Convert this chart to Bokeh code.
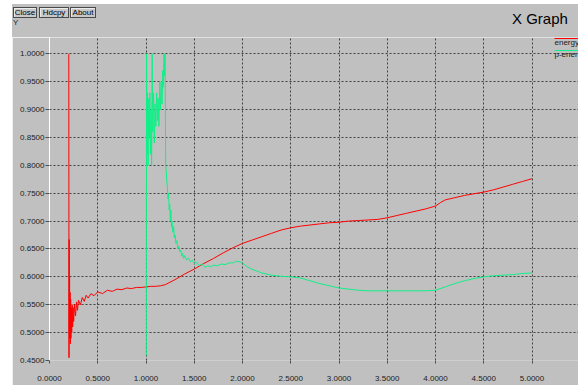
from bokeh.plotting import figure
from bokeh.models import Range1d, FixedTicker, PrintfTickFormatter, Label, Div
from bokeh.layouts import column
from bokeh.embed import file_html
from bokeh.resources import INLINE

# ---- data ----
energy_x = [0.200, 0.202, 0.204, 0.206, 0.208, 0.210, 0.213, 0.216, 0.219, 0.222, 0.226, 0.230,
            0.235, 0.240, 0.245, 0.25, 0.26, 0.27, 0.28, 0.29, 0.30, 0.32, 0.34, 0.36, 0.38, 0.40,
            0.43, 0.46, 0.50, 0.55, 0.60, 0.65, 0.70, 0.75, 0.80, 0.85, 0.90, 0.95, 1.0, 1.05, 1.1,
            1.15, 1.2, 1.3, 1.4, 1.5, 1.6, 1.7, 1.8, 1.9, 2.0, 2.1, 2.2, 2.3, 2.4, 2.5, 2.6, 2.7,
            2.8, 2.9, 3.0, 3.1, 3.2, 3.3, 3.4, 3.5, 3.6, 3.7, 3.8, 3.9, 4.0, 4.05, 4.1, 4.2, 4.3,
            4.4, 4.5, 4.6, 4.7, 4.8, 4.9, 5.0]
energy_y = [1.0, 0.455, 0.667, 0.50, 0.60, 0.49, 0.572, 0.48, 0.56, 0.49, 0.545, 0.50,
            0.55, 0.51, 0.545, 0.52, 0.55, 0.53, 0.555, 0.54, 0.558, 0.55, 0.563, 0.556, 0.567, 0.562,
            0.570, 0.566, 0.573, 0.570, 0.576, 0.574, 0.578, 0.577, 0.580, 0.579, 0.581, 0.581, 0.582, 0.583, 0.583,
            0.584, 0.586, 0.595, 0.605, 0.614, 0.624, 0.633, 0.643, 0.652, 0.660, 0.666, 0.672, 0.678, 0.684, 0.688, 0.691, 0.693,
            0.695, 0.697, 0.698, 0.700, 0.701, 0.702, 0.703, 0.706, 0.710, 0.714, 0.718, 0.722, 0.727, 0.733, 0.738, 0.742, 0.746,
            0.749, 0.752, 0.756, 0.761, 0.766, 0.771, 0.776]

penergy_x = [1.003, 1.006, 1.010, 1.016, 1.022, 1.028, 1.034, 1.040, 1.046, 1.052, 1.058, 1.064,
             1.070, 1.078, 1.086, 1.094, 1.102, 1.110, 1.118, 1.126, 1.134, 1.142, 1.150, 1.158,
             1.166, 1.174, 1.180, 1.186, 1.192, 1.198, 1.204, 1.210, 1.216, 1.222, 1.228, 1.234,
             1.240, 1.246, 1.252, 1.258, 1.264, 1.270, 1.278, 1.286, 1.294, 1.302, 1.31, 1.32,
             1.33, 1.34, 1.35, 1.36, 1.37, 1.38, 1.39, 1.40, 1.42, 1.44, 1.46, 1.48, 1.50, 1.52,
             1.55, 1.58, 1.61, 1.64, 1.67, 1.70, 1.74, 1.78, 1.82, 1.86, 1.90, 1.94, 1.97, 2.00,
             2.04, 2.08, 2.14, 2.2, 2.3, 2.4, 2.5, 2.6, 2.7, 2.8, 2.9, 3.0, 3.1, 3.2, 3.3, 3.4,
             3.5, 3.6, 3.7, 3.8, 3.9, 4.0, 4.1, 4.2, 4.3, 4.4, 4.5, 4.6, 4.7, 4.8, 4.9, 5.0]
penergy_y = [0.459, 1.0, 0.82, 0.93, 0.80, 0.92, 0.85, 0.93, 0.82, 0.90, 0.80, 1.0,
             0.86, 0.93, 0.84, 0.91, 0.87, 0.93, 0.88, 0.92, 0.87, 0.95, 0.90, 0.95,
             0.91, 0.97, 0.94, 1.0, 0.96, 1.0, 0.80, 0.79, 0.77, 0.76, 0.74, 0.75,
             0.72, 0.73, 0.70, 0.72, 0.69, 0.70, 0.68, 0.69, 0.67, 0.675, 0.66, 0.665,
             0.65, 0.655, 0.645, 0.648, 0.637, 0.642, 0.633, 0.638, 0.630, 0.634, 0.627, 0.630, 0.624, 0.627,
             0.620, 0.623, 0.617, 0.620, 0.618, 0.621, 0.620, 0.623, 0.622, 0.625, 0.625, 0.628, 0.627, 0.625,
             0.619, 0.615, 0.611, 0.607, 0.603, 0.601, 0.600, 0.598, 0.593, 0.588, 0.584, 0.580, 0.578, 0.576, 0.575, 0.575,
             0.575, 0.575, 0.575, 0.575, 0.575, 0.576, 0.582, 0.588, 0.593, 0.597, 0.600, 0.602, 0.603, 0.604, 0.606, 0.607]

x_ticks = [0.0, 0.5, 1.0, 1.5, 2.0, 2.5, 3.0, 3.5, 4.0, 4.5, 5.0]
y_ticks = [0.45, 0.50, 0.55, 0.60, 0.65, 0.70, 0.75, 0.80, 0.85, 0.90, 0.95, 1.00]
series_names = ["energy", "p-energy"]
buttons = ["Close", "Hdcpy", "About"]
title_text = "X Graph"
y_name = "Y"

# ---- layout ----
BG = "#c0c0c0"
FONT = "Liberation Sans"
OX, OY = 12, 37                 # window position of the figure canvas
W, H = 566, 348
FL, FR, FT, FB = 37, 0, 0, 25   # frame borders (canvas px)
FW, FH = W - FL - FR, H - FT - FB
PX_X, PX_Y = 96.5, 557.6        # pixels per data unit
X0, Y0 = 0.0, 0.45
XEND = X0 + FW / PX_X
YEND = Y0 + FH / PX_Y
GRID_XMAX = 5.233               # right end of horizontal grid lines


def dx(xw):
    return X0 + (xw - OX - FL) / PX_X


def dy(yw):
    return YEND - (yw - OY - FT) / PX_Y


p = figure(width=W, height=H, output_backend="svg", toolbar_location=None,
           x_range=Range1d(X0, XEND), y_range=Range1d(Y0, YEND),
           min_border_left=FL, min_border_right=FR, min_border_top=FT, min_border_bottom=FB,
           margin=(0, 0, 0, OX))
p.background_fill_color = BG
p.border_fill_color = BG
p.outline_line_color = None

for ax in (p.xaxis[0], p.yaxis[0]):
    ax.formatter = PrintfTickFormatter(format="%.4f")
    ax.major_label_text_font = FONT
    ax.major_label_text_font_size = "8px"
    ax.major_label_text_color = "#202020"
    ax.minor_tick_line_color = None
    ax.major_tick_in = 0
    ax.major_tick_line_color = "#505050"

p.xaxis[0].ticker = FixedTicker(ticks=x_ticks)
p.yaxis[0].ticker = FixedTicker(ticks=y_ticks)
p.xaxis[0].axis_line_color = None
p.xaxis[0].major_tick_out = 3
p.xaxis[0].major_label_standoff = 12
p.yaxis[0].axis_line_color = "white"
p.yaxis[0].major_tick_out = 4
p.yaxis[0].major_label_standoff = 1

for g in (p.xgrid[0], p.ygrid[0]):
    g.grid_line_color = "#404040"
    g.grid_line_dash = "2 2"
    g.grid_line_width = 1
p.xgrid[0].ticker = FixedTicker(ticks=x_ticks)
p.ygrid[0].ticker = FixedTicker(ticks=y_ticks)
p.ygrid[0].bounds = (X0, GRID_XMAX)

colors = ["#ff0000", "#10f088"]
p.line(energy_x, energy_y, line_color=colors[0], line_width=1)
p.line(penergy_x, penergy_y, line_color=colors[1], line_width=1)

# legend (in the right margin of the grid)
leg_line_y = [38, 50]
for name, c, ly in zip(series_names, colors, leg_line_y):
    p.segment(x0=[dx(554)], y0=[dy(ly)], x1=[dx(580)], y1=[dy(ly)], line_color=c, line_width=1)
    p.add_layout(Label(x=dx(554), y=dy(ly - 0.5), text=name,
                       text_font=FONT, text_font_size="8px", text_color="#202020", text_baseline="top"))

# header with buttons, axis name and title
btn_left = [1, 27, 58]
btn_width = [24, 30, 26]
spans = []
for name, bl, bw in zip(buttons, btn_left, btn_width):
    spans.append(
        f'<span style="position:absolute;left:{bl}px;top:3px;width:{bw}px;height:11px;'
        f'box-sizing:border-box;border:1px solid #4a4a4a;background:#c8c8c8;'
        f'box-shadow:inset 1px 1px 0 #ececec;text-align:center;font-size:8px;line-height:9px;'
        f'color:#000;">{name}</span>')
spans.append(f'<span style="position:absolute;left:1px;top:15px;font-size:8px;line-height:8px;'
             f'color:#202020;">{y_name}</span>')
spans.append(f'<span style="position:absolute;left:500px;top:7px;font-size:15px;line-height:15px;'
             f'color:#000;white-space:nowrap;">{title_text}</span>')
html = (f'<div style="position:relative;width:{W}px;height:33px;background:{BG};'
        f'font-family:\'{FONT}\',Arial,sans-serif;overflow:hidden;">' + "".join(spans) + '</div>')
header = Div(text=html, width=W, height=33, margin=(4, 0, 0, OX),
             styles={"background-color": BG})

layout = column(header, p, spacing=0)
open("out.html", "w").write(file_html(layout, INLINE))
